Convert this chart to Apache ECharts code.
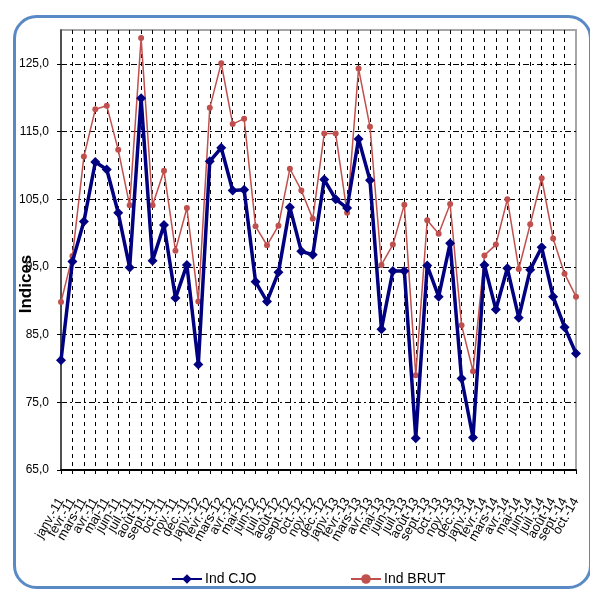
<!DOCTYPE html>
<html>
<head>
<meta charset="utf-8">
<script src="https://cdn.jsdelivr.net/npm/echarts@6/dist/echarts.min.js"></script>
<style>
html,body{margin:0;padding:0;background:#fff;}
#c{width:590px;height:592px;}
</style>
</head>
<body>
<div id="c"></div>
<script>
const categories = [
 'janv.-11','févr.-11','mars-11','avr.-11','mai-11','juin-11','juil.-11','août-11','sept.-11','oct.-11','nov.-11','déc.-11',
 'janv.-12','févr.-12','mars-12','avr.-12','mai-12','juin-12','juil.-12','août-12','sept.-12','oct.-12','nov.-12','déc.-12',
 'janv.-13','févr.-13','mars-13','avr.-13','mai-13','juin-13','juil.-13','août-13','sept.-13','oct.-13','nov.-13','déc.-13',
 'janv.-14','févr.-14','mars-14','avr.-14','mai-14','juin-14','juil.-14','août-14','sept.-14','oct.-14'
];
const indCJO = [81.2, 95.8, 101.7, 110.5, 109.4, 103.0, 94.9, 119.9, 95.9, 101.2, 90.4, 95.3,
 80.6, 110.6, 112.6, 106.3, 106.4, 92.8, 89.9, 94.2, 103.8, 97.3, 96.8, 107.9,
 105.0, 103.7, 113.9, 107.8, 85.8, 94.4, 94.4, 69.7, 95.2, 90.6, 98.5, 78.5,
 69.8, 95.3, 88.7, 94.8, 87.5, 94.6, 97.9, 90.6, 86.1, 82.2];
const indBRUT = [89.8, 96.6, 111.3, 118.3, 118.8, 112.3, 104.1, 128.8, 104.1, 109.2, 97.4, 103.7,
 89.9, 118.5, 125.1, 116.1, 116.9, 101.0, 98.2, 101.1, 109.5, 106.3, 102.1, 114.7,
 114.7, 103.0, 124.3, 115.7, 95.3, 98.3, 104.2, 79.0, 101.9, 99.9, 104.3, 86.4,
 79.6, 96.7, 98.3, 105.0, 94.7, 101.3, 108.1, 99.2, 94.0, 90.6];
const seriesNames = ['Ind CJO', 'Ind BRUT'];
const yAxisTitle = 'Indices';

const FONT = "'Liberation Sans', Arial, sans-serif";
const chart = echarts.init(document.getElementById('c'), null, {renderer: 'canvas'});
const legendText = {fontFamily: FONT, fontSize: 14, color: '#000', padding: [0, 0, 0, -2]};
chart.setOption({
  animation: false,
  backgroundColor: '#ffffff',
  grid: {left: 61, right: 14, top: 30, bottom: 122, show: true, borderColor: '#a6a6a6', borderWidth: 2, backgroundColor: 'transparent'},
  graphic: [
    {type: 'rect', left: 12, top: 14, shape: {x: 0, y: 0, width: 576, height: 571, r: 22},
     style: {fill: 'none', stroke: '#5a8ac6', lineWidth: 3}, z: 0},
    {type: 'text', x: 26, y: 284, rotation: Math.PI / 2,
     style: {text: yAxisTitle, font: "bold 17px 'Liberation Sans', Arial, sans-serif", fill: '#000', align: 'center', verticalAlign: 'middle'}}
  ],
  legend: [
    {left: 166, top: 567, itemWidth: 30, itemHeight: 12, textStyle: legendText, data: [seriesNames[0]]},
    {left: 345, top: 567, itemWidth: 30, itemHeight: 12, textStyle: legendText, data: [seriesNames[1]]}
  ],
  xAxis: {
    type: 'category', data: categories, boundaryGap: false,
    axisLine: {lineStyle: {color: '#000', width: 2}},
    axisTick: {show: true, interval: 0, length: 4, lineStyle: {color: '#000'}},
    axisLabel: {interval: 0, rotate: 60, margin: 29, fontFamily: FONT, fontSize: 13, color: '#000'},
    splitLine: {show: true, interval: 0, showMinLine: false, showMaxLine: false,
      lineStyle: {color: '#000', width: 1, type: [4, 4]}}
  },
  yAxis: {
    type: 'value', min: 65, max: 130, interval: 10,
    axisLine: {show: true, lineStyle: {color: '#333', width: 1.5}},
    axisTick: {show: true, length: 4, lineStyle: {color: '#000'}},
    axisLabel: {showMaxLabel: false, margin: 12, fontFamily: FONT, fontSize: 12, color: '#000',
      formatter: v => v.toFixed(1).replace('.', ',')},
    splitLine: {show: true, showMinLine: false, showMaxLine: false,
      lineStyle: {color: '#000', width: 1, type: [6, 3, 2, 3]}}
  },
  series: [
    {name: seriesNames[0], type: 'line', data: indCJO, z: 3,
     symbol: 'diamond', symbolSize: 10, showAllSymbol: true,
     lineStyle: {color: '#000080', width: 3.5}, itemStyle: {color: '#000080'}},
    {name: seriesNames[1], type: 'line', data: indBRUT, z: 2,
     symbol: 'circle', symbolSize: 6, showAllSymbol: true,
     lineStyle: {color: '#c0504d', width: 1.5}, itemStyle: {color: '#c0504d'}}
  ]
});
</script>
</body>
</html>
